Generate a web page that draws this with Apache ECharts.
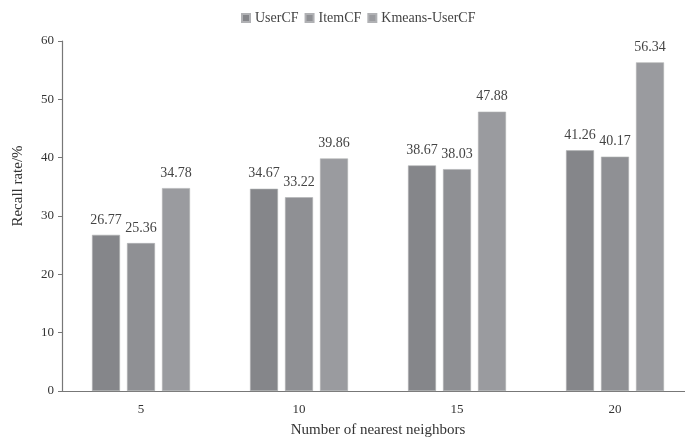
<!DOCTYPE html>
<html>
<head>
<meta charset="utf-8">
<script src="https://cdn.jsdelivr.net/npm/echarts@6/dist/echarts.min.js"></script>
<style>html,body{margin:0;padding:0;background:#fff}#c{width:685px;height:439px}</style>
</head>
<body>
<div id="c"></div>
<script>
var categories = ['5', '10', '15', '20'];
var seriesNames = ['UserCF', 'ItemCF', 'Kmeans-UserCF'];
var userCF = [26.77, 34.67, 38.67, 41.26];
var itemCF = [25.36, 33.22, 38.03, 40.17];
var kmeansUserCF = [34.78, 39.86, 47.88, 56.34];
var yTicks = [0, 10, 20, 30, 40, 50, 60];

var colors = ['#85868a', '#8f9094', '#9a9b9f'];
var font = 'Liberation Serif, Times New Roman, serif';
var chart = echarts.init(document.getElementById('c'), null, {renderer: 'canvas'});
function mk(name, data, i) {
  return {
    name: name, type: 'bar', data: data, barWidth: 28, barGap: '25%',
    itemStyle: {color: colors[i], borderColor: '#b0b1b4', borderWidth: 0.6},
    label: {show: true, position: 'top', distance: 8, color: '#444', fontFamily: font, fontSize: 14,
      formatter: function (p) { return p.value.toFixed(2); }}
  };
}
chart.setOption({
  backgroundColor: '#fff',
  animation: false,
  legend: {
    top: 6, left: 236,
    data: seriesNames,
    icon: 'rect', itemWidth: 8, itemHeight: 8, itemGap: 6,
    textStyle: {fontFamily: font, fontSize: 14, color: '#444'}
  },
  grid: {left: 62, top: 41, width: 632, bottom: 48, containLabel: false, outerBoundsMode: 'none'},
  xAxis: {
    type: 'category', data: categories,
    name: 'Number of nearest neighbors', nameLocation: 'middle', nameGap: 32,
    nameTextStyle: {fontFamily: font, fontSize: 15, color: '#333'},
    axisLine: {lineStyle: {color: '#777', width: 1.2}},
    axisTick: {inside: true, length: 4, lineStyle: {color: '#777'}},
    axisLabel: {margin: 12, fontFamily: font, fontSize: 13, color: '#333'}
  },
  yAxis: {
    type: 'value', min: yTicks[0], max: yTicks[yTicks.length - 1], interval: 10,
    name: 'Recall rate/%', nameLocation: 'middle', nameGap: 36,
    nameTextStyle: {fontFamily: font, fontSize: 15, color: '#333', padding: [0, 0, 0, 60]},
    axisLine: {show: true, lineStyle: {color: '#777', width: 1.2}},
    axisTick: {show: true, length: 4, lineStyle: {color: '#777'}},
    splitLine: {show: false},
    axisLabel: {margin: 8, fontFamily: font, fontSize: 13, color: '#333'}
  },
  series: [mk(seriesNames[0], userCF, 0), mk(seriesNames[1], itemCF, 1), mk(seriesNames[2], kmeansUserCF, 2)]
});
</script>
</body>
</html>
